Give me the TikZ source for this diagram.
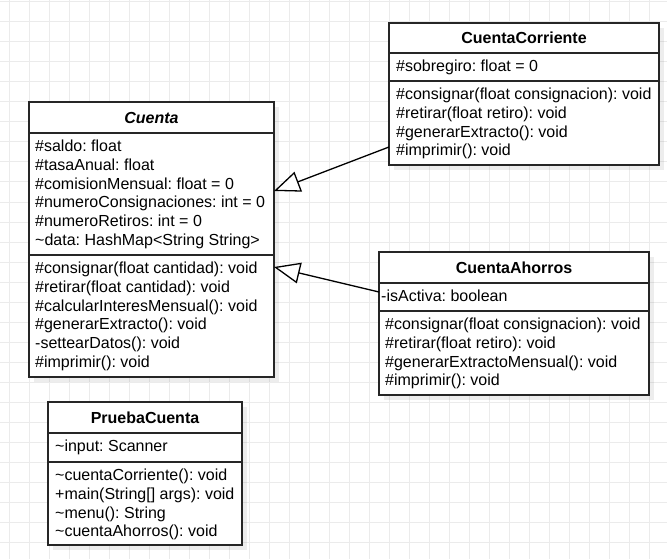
\documentclass[tikz,border=0pt]{standalone}
\usepackage{fontspec}
\setmainfont{Liberation Sans}
\usetikzlibrary{arrows.meta,shadows,calc}
\frenchspacing

\begin{document}
\begin{tikzpicture}[x=1pt,y=-1pt,
  gridline/.style={draw=black!8, line width=1pt},
  classbox/.style={draw=black!85, line width=1.3pt, fill=white, anchor=north west, inner sep=0pt, outer sep=0pt,
    drop shadow={shadow xshift=5pt, shadow yshift=-5pt, fill=black, opacity=0.07}},
  sepline/.style={draw=black!85, line width=1.3pt},
  titletxt/.style={anchor=base, inner sep=0pt, font=\fontsize{16}{18.7}\selectfont\frenchspacing\bfseries},
  membertxt/.style={anchor=north west, inner sep=0pt, align=left, font=\fontsize{16}{18.7}\selectfont\frenchspacing},
  inherit/.style={draw=black, line width=1.3pt, -{Triangle[open, length=26pt, width=21pt, fill=white]}}
]
\useasboundingbox (0,0) rectangle (667,559);
\fill[white] (0,0) rectangle (667,559);
\foreach \x in {9,29,...,669} \draw[gridline] (\x,0) -- (\x,559);
\foreach \y in {2,22,...,558} \draw[gridline] (0,\y) -- (667,\y);

% Cuenta
\node[classbox, minimum width=245, minimum height=275] (cuenta) at (29,102) {};
\draw[sepline] ($(cuenta.north west)+(0,31)$) -- ($(cuenta.north east)+(0,31)$);
\draw[sepline] ($(cuenta.north west)+(0,153)$) -- ($(cuenta.north east)+(0,153)$);
\node[titletxt] (cuentaT) at (151.5,123.2) {\itshape Cuenta};
\node[membertxt] (cuentaA) at (35,138.4) {\strut\#saldo: float\\
\#tasaAnual: float\\
\#comisionMensual: float = 0\\
\#numeroConsignaciones: int = 0\\
\#numeroRetiros: int = 0\\
\textasciitilde data: HashMap<String String>};
\node[membertxt] (cuentaM) at (35,260.4) {\strut\#consignar(float cantidad): void\\
\#retirar(float cantidad): void\\
\#calcularInteresMensual(): void\\
\#generarExtracto(): void\\
-settearDatos(): void\\
\#imprimir(): void};

% CuentaCorriente
\node[classbox, minimum width=270, minimum height=142] (cc) at (389,23) {};
\draw[sepline] ($(cc.north west)+(0,30)$) -- ($(cc.north east)+(0,30)$);
\draw[sepline] ($(cc.north west)+(0,58)$) -- ($(cc.north east)+(0,58)$);
\node[titletxt] (ccT) at (524,43.7) {CuentaCorriente};
\node[membertxt] (ccA) at (396,58.4) {\strut\#sobregiro: float = 0};
\node[membertxt] (ccM) at (396,86.4) {\strut\#consignar(float consignacion): void\\
\#retirar(float retiro): void\\
\#generarExtracto(): void\\
\#imprimir(): void};

% CuentaAhorros
\node[classbox, minimum width=270, minimum height=143] (ca) at (379,252) {};
\draw[sepline] ($(ca.north west)+(0,31)$) -- ($(ca.north east)+(0,31)$);
\draw[sepline] ($(ca.north west)+(0,59)$) -- ($(ca.north east)+(0,59)$);
\node[titletxt] (caT) at (514,273.2) {CuentaAhorros};
\node[membertxt] (caA) at (381,288.4) {\strut-isActiva: boolean};
\node[membertxt] (caM) at (385,316.4) {\strut\#consignar(float consignacion): void\\
\#retirar(float retiro): void\\
\#generarExtractoMensual(): void\\
\#imprimir(): void};

% PruebaCuenta
\node[classbox, minimum width=194, minimum height=143] (pc) at (48,402) {};
\draw[sepline] ($(pc.north west)+(0,31)$) -- ($(pc.north east)+(0,31)$);
\draw[sepline] ($(pc.north west)+(0,60)$) -- ($(pc.north east)+(0,60)$);
\node[titletxt] (pcT) at (145,423.2) {PruebaCuenta};
\node[membertxt] (pcA) at (55,438.4) {\strut\textasciitilde input: Scanner};
\node[membertxt] (pcM) at (55,467.4) {\strut\textasciitilde cuentaCorriente(): void\\
+main(String[] args): void\\
\textasciitilde menu(): String\\
\textasciitilde cuentaAhorros(): void};

% Inheritance
\coordinate (ccS) at ($(cc.north west)+(0,124)$);
\coordinate (cuT1) at ($(cuenta.north east)+(0,89)$);
\coordinate (caS) at ($(ca.north west)+(0,40)$);
\coordinate (cuT2) at ($(cuenta.north east)+(0,165)$);
\draw[inherit] (ccS) -- (cuT1);
\draw[inherit] (caS) -- (cuT2);
\end{tikzpicture}
\end{document}
